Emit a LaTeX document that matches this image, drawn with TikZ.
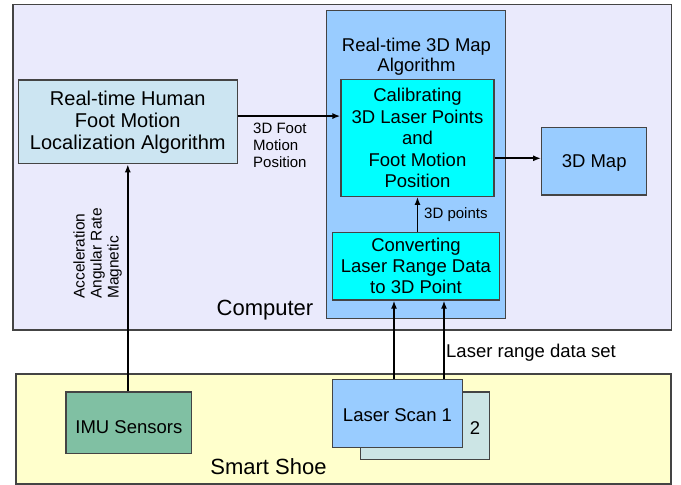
\documentclass[tikz,border=0pt]{standalone}
\usepackage{fontspec}
\setmainfont{Liberation Sans}
\usetikzlibrary{arrows.meta}
\definecolor{compfill}{HTML}{EAEAFC}
\definecolor{shoefill}{HTML}{FFFFCC}
\definecolor{mapblue}{HTML}{99CCFF}
\definecolor{cyanfill}{HTML}{00FFFF}
\definecolor{humanfill}{HTML}{CCE5F2}
\definecolor{imufill}{HTML}{80C0A3}
\definecolor{scantwo}{HTML}{CCE5E5}
\definecolor{bordercol}{HTML}{444444}
\tikzset{
  box/.style={draw=bordercol, line width=1.2pt, inner sep=0pt, align=center},
  arr/.style={line width=1.8pt, -{Latex[length=8pt,width=6pt]}},
  bigtext/.style={font=\fontsize{20}{22}\selectfont},
  midtext/.style={font=\fontsize{18.5}{21.5}\selectfont},
  smalltext/.style={font=\fontsize{15}{17}\selectfont, inner sep=0pt, align=left},
  areatext/.style={font=\fontsize{22}{24}\selectfont, inner sep=0pt},
}
\begin{document}
\begin{tikzpicture}[x=1pt,y=-1pt]
\useasboundingbox (0,0) rectangle (681,485);
% containers
\node[box, fill=compfill, minimum width=658.5pt, minimum height=325.5pt] (computer) at (342.25,167.25) {};
\node[box, fill=shoefill, minimum width=655pt, minimum height=110pt] (shoe) at (343.5,429) {};
\node[box, fill=mapblue, minimum width=179pt, minimum height=307.6pt] (mapalg) at (416.2,164.5) {};
\node[midtext, inner sep=0pt, align=center, font=\fontsize{18.5}{20}\selectfont] (maptitle) at (416.5,56.7) {Real-time 3D Map\\Algorithm};
% boxes
\node[box, midtext, fill=cyanfill, minimum width=153pt, minimum height=116.6pt] (cal) at (417.5,138) {Calibrating\\3D Laser Points\\and\\Foot Motion\\Position};
\node[box, midtext, fill=cyanfill, minimum width=166.6pt, minimum height=67.7pt, font=\fontsize{18.5}{21}\selectfont] (conv) at (416,266.2) {Converting\\Laser Range Data\\to 3D Point};
\node[box, midtext, fill=mapblue, minimum width=105pt, minimum height=67.7pt, text height=16.5pt] (map3d) at (594.2,161.2) {3D Map};
\node[box, bigtext, fill=humanfill, minimum width=219pt, minimum height=83.7pt] (human) at (127.8,121.85) {Real-time Human\\Foot Motion\\Localization Algorithm};
\node[box, midtext, fill=imufill, minimum width=125.7pt, minimum height=61.3pt, text height=21pt] (imu) at (128.85,422.65) {IMU Sensors};
\node[box, fill=scantwo, minimum width=129.4pt, minimum height=67.3pt] (scan2) at (425,425.65) {};
\node[midtext, inner sep=0pt] (scantwolabel) at (475,428) {2};
\node[box, midtext, fill=mapblue, minimum width=129.6pt, minimum height=67.6pt, text height=16pt] (scan1) at (397.5,413.5) {Laser Scan 1};
% area labels
\node[areatext] (complabel) at (265,310) {Computer};
\node[areatext] (shoelabel) at (268.5,466.5) {Smart Shoe};
% connectors
\draw[arr] ([yshift=5.8pt]human.east) -- ([yshift=5.8pt]human.east -| cal.west);
\draw[arr] ([yshift=-20.3pt]cal.east) -- ([yshift=-20.3pt]cal.east -| map3d.west);
\draw[arr] ([xshift=1.5pt]conv.north) -- ([xshift=1.5pt]conv.north |- cal.south);
\draw[arr] (imu.north -| human.south) -- (human.south);
\draw[arr] ([xshift=-3.5pt]scan1.north) -- ([xshift=-3.5pt]scan1.north |- conv.south);
\draw[arr] ([xshift=46.5pt]scan1.north) -- ([xshift=46.5pt]scan1.north |- conv.south);
% connector labels
\node[smalltext, anchor=west] (footlabel) at (253,145) {3D Foot\\Motion\\Position};
\node[smalltext, anchor=west] (ptslabel) at (424,215) {3D points};
\node[smalltext, anchor=west, font=\fontsize{18.5}{21}\selectfont] (laserlabel) at (446,353) {Laser range data set};
\node[smalltext, anchor=west, rotate=90, font=\fontsize{15.5}{17}\selectfont] (imulabel) at (97.5,299) {Acceleration\\Angular Rate\\Magnetic};
\end{tikzpicture}
\end{document}
